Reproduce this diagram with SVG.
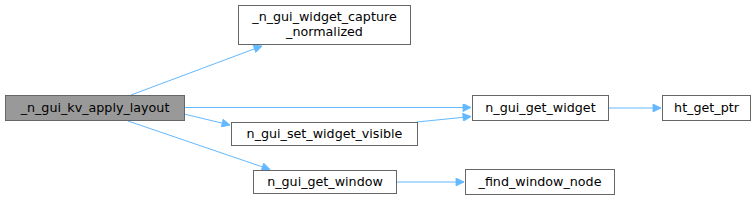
<svg xmlns="http://www.w3.org/2000/svg" width="756" height="201" viewBox="0 0 756 201">
<style>
.n rect{fill:#ffffff;stroke:#666666;stroke-width:1}
.n text{font-family:"DejaVu Sans",sans-serif;font-size:12.7px;fill:#000000;text-anchor:middle}
.e path{fill:none;stroke:#63b8ff;stroke-width:1}
</style>
<defs>
<marker id="a" viewBox="0 0 10 10" refX="10" refY="5" markerWidth="11" markerHeight="8" markerUnits="userSpaceOnUse" orient="auto">
<path d="M0,0 L10,5 L0,10 z" fill="#63b8ff" stroke="#63b8ff"/>
</marker>
</defs>
<g class="e">
<path d="M131,95 L262,46" marker-end="url(#a)"/>
<path d="M184,107.5 L471,107.5" marker-end="url(#a)"/>
<path d="M184,114 L230,125" marker-end="url(#a)"/>
<path d="M128,121 L270,169.5" marker-end="url(#a)"/>
<path d="M417,122 L471,116.5" marker-end="url(#a)"/>
<path d="M608,108 L661,108" marker-end="url(#a)"/>
<path d="M396,182 L464,182" marker-end="url(#a)"/>
</g>
<g id="node1" class="n"><rect x="5.5" y="95.5" width="179" height="25" style="fill:#999999"/><text x="95" y="112">_n_gui_kv_apply_layout</text></g>
<g id="node2" class="n"><rect x="238.5" y="5.5" width="172" height="39"/><text x="324.5" y="21">_n_gui_widget_capture</text><text x="324.5" y="35.5">_normalized</text></g>
<g id="node3" class="n"><rect x="231.5" y="122.5" width="186" height="23"/><text x="324.5" y="138">n_gui_set_widget_visible</text></g>
<g id="node4" class="n"><rect x="253.5" y="170.5" width="143" height="23"/><text x="325" y="186">n_gui_get_window</text></g>
<g id="node5" class="n"><rect x="472.5" y="95.5" width="136" height="25"/><text x="540.5" y="112">n_gui_get_widget</text></g>
<g id="node6" class="n"><rect x="662.5" y="95.5" width="88" height="25"/><text x="706.5" y="112">ht_get_ptr</text></g>
<g id="node7" class="n"><rect x="465.5" y="169.5" width="149" height="25"/><text x="540" y="186">_find_window_node</text></g>
</svg>
